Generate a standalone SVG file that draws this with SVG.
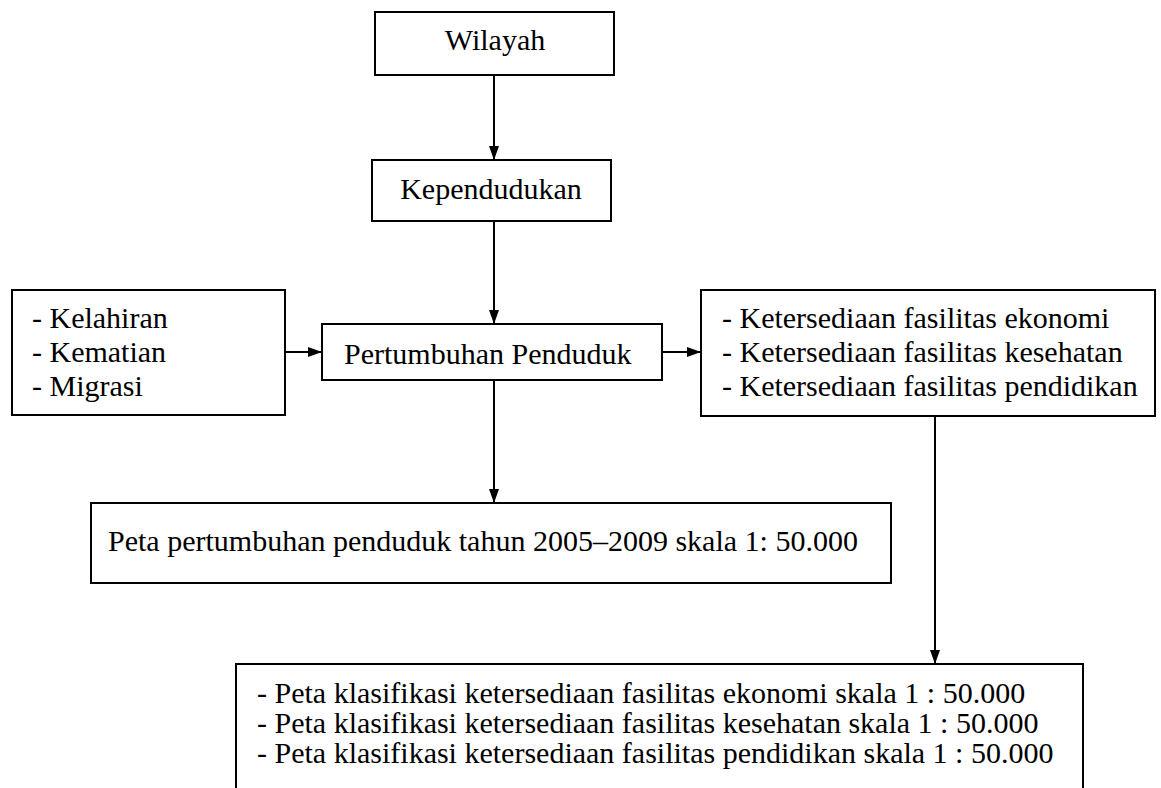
<svg xmlns="http://www.w3.org/2000/svg" width="1161" height="788" viewBox="0 0 1161 788">
<defs>
<marker id="arrv" viewBox="0 0 14 10" refX="14" refY="5" markerWidth="14" markerHeight="10" markerUnits="userSpaceOnUse" orient="auto">
<path d="M0,0 L14,5 L0,10 Z" fill="#000"/>
</marker>
</defs>
<style>
rect{fill:#fff;stroke:#000;stroke-width:2}
text{font-family:"Liberation Serif","Times New Roman",serif;font-size:30px;fill:#000}
.c{text-anchor:middle}
line{stroke:#000;stroke-width:2;marker-end:url(#arrv)}
</style>
<rect width="1161" height="788" style="fill:#fff;stroke:none"/>
<g id="connectors">
<line x1="494" y1="75" x2="494" y2="160"/>
<line x1="494" y1="221" x2="494" y2="324"/>
<line x1="285" y1="352" x2="322" y2="352"/>
<line x1="662" y1="352" x2="701" y2="352"/>
<line x1="494" y1="380" x2="494" y2="503"/>
<line x1="935" y1="416" x2="935" y2="664"/>
</g>
<g id="wilayah">
<rect x="375" y="12" width="239" height="63"/>
<text x="495" y="50" class="c">Wilayah</text>
</g>
<g id="kependudukan">
<rect x="372" y="160" width="239" height="61"/>
<text x="491" y="199" class="c">Kependudukan</text>
</g>
<g id="faktor">
<rect x="12" y="290" width="273" height="125"/>
<text x="32" y="328">- Kelahiran</text>
<text x="32" y="362">- Kematian</text>
<text x="32" y="396">- Migrasi</text>
</g>
<g id="pertumbuhan">
<rect x="322" y="324" width="340" height="56"/>
<text x="344" y="364">Pertumbuhan Penduduk</text>
</g>
<g id="fasilitas">
<rect x="701" y="290" width="454" height="126"/>
<text x="722" y="328">- Ketersediaan fasilitas ekonomi</text>
<text x="722" y="362">- Ketersediaan fasilitas kesehatan</text>
<text x="722" y="396">- Ketersediaan fasilitas pendidikan</text>
</g>
<g id="peta-pertumbuhan">
<rect x="91" y="503" width="800" height="80"/>
<text x="108" y="551">Peta pertumbuhan penduduk tahun 2005–2009 skala 1: 50.000</text>
</g>
<g id="peta-klasifikasi">
<rect x="236" y="664" width="847" height="150"/>
<text x="257" y="703">- Peta klasifikasi ketersediaan fasilitas ekonomi skala 1 : 50.000</text>
<text x="257" y="733">- Peta klasifikasi ketersediaan fasilitas kesehatan skala 1 : 50.000</text>
<text x="257" y="763">- Peta klasifikasi ketersediaan fasilitas pendidikan skala 1 : 50.000</text>
</g>
</svg>
